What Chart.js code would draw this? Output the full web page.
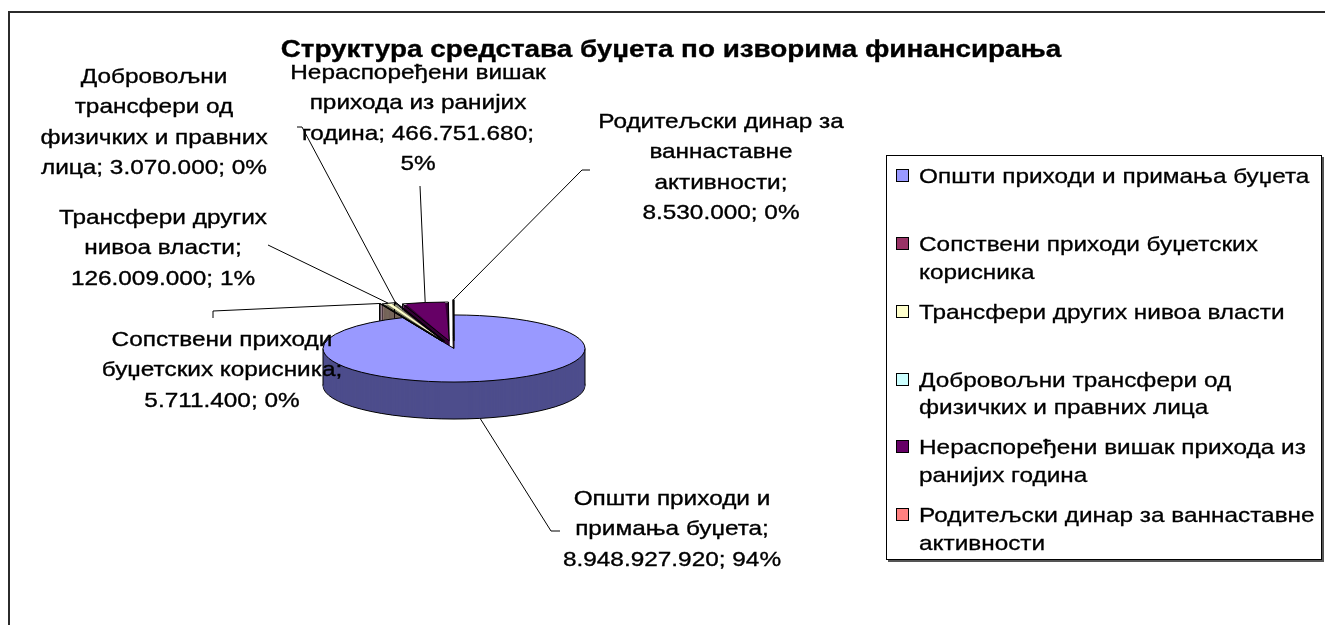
<!DOCTYPE html>
<html lang="sr">
<head>
<meta charset="utf-8">
<title>Структура средстава буџета</title>
<script src="https://cdn.jsdelivr.net/npm/chart.js@4.4.1/dist/chart.umd.min.js"></script>
<style>
    html, body { margin: 0; padding: 0; background: #fff; overflow: hidden; }
    body { width: 1325px; height: 625px; position: relative; font-family: "Liberation Sans", Arial, sans-serif; }
    #frame { position: absolute; left: 8px; top: 11px; width: 1340px; height: 640px; border: 2px solid #2b2b2b; }
    #chart { position: absolute; left: 0; top: 0; }
    #legend { position: absolute; left: 886px; top: 155px; width: 436px; height: 405px; border: 1px solid #000;
              box-shadow: 2px 2px 0 #555; background: #fff; box-sizing: border-box; }
    .item { position: absolute; left: 0; width: 100%; height: 56px; }
    .swatch { position: absolute; left: 9px; top: 7px; width: 11px; height: 11px; border: 1px solid #000; }
    .text { position: absolute; left: 32px; top: 0; width: 362px; font-size: 21px; line-height: 27.5px;
            color: #000; -webkit-text-stroke: 0.3px #000; transform: scaleX(1.16); transform-origin: 0 0; }
</style>
</head>
<body>
<div id="frame"></div>
<canvas id="chart" width="1325" height="625"></canvas>
<div id="legend"></div>
<script>
// Data
const chartTitle = 'Структура средстава буџета по изворима финансирања';
const categories = [
    'Општи приходи и примања буџета',
    'Сопствени приходи буџетских корисника',
    'Трансфери других нивоа власти',
    'Добровољни трансфери од физичких и правних лица',
    'Нераспоређени вишак прихода из ранијих година',
    'Родитељски динар за ваннаставне активности'
];
const amounts = [8948927920, 5711400, 126009000, 3070000, 466751680, 8530000];

// Styles
const topColors = ['#9999FF', '#993366', '#FFFFCC', '#CCFFFF', '#660066', '#FF8080'];
const sideColors = ['#4D4D8C', '#5A1E3C', '#808066', '#668080', '#330033', '#804040'];
const explode = [0, 120, 120, 120, 120, 120];

// Label placement: centre x, first line y, wrap width, leader points on the label side
const labelX = [672, 222, 163, 154, 418, 721];
const labelY = [499, 340, 218, 77, 73, 122];
const labelWrap = [225, 252, 215, 240, 265, 249];
const leaderPts = [
    [[560, 531], [551, 531]],
    [[213, 318], [213, 311]],
    [[268, 245]],
    [[297, 127], [302, 127]],
    [[420, 186]],
    [[590, 170], [582, 170]]
];

const TILT = 0.256;   // vertical squash of the pie
const DEPTH = 37;     // thickness of the pie, px
const SX = 1.16;      // horizontal stretch of the text
const FONT = '"Liberation Sans", Arial, sans-serif';

const fmtNum = n => String(n).replace(/\B(?=(\d{3})+(?!\d))/g, '.');

// Geometry of an arc as it appears after projection
function geom(arc) {
    const p = arc.getProps(['x', 'y', 'startAngle', 'endAngle', 'outerRadius'], true);
    const off = (arc.options.offset || 0) / 4;
    const h = (p.startAngle + p.endAngle) / 2;
    const fix = 1 - Math.sin(Math.min(Math.PI, p.endAngle - p.startAngle));
    return {
        ax: p.x + Math.cos(h) * off,
        ay: p.y + Math.sin(h) * off * TILT,
        r: p.outerRadius + off * fix,
        s: p.startAngle,
        e: p.endAngle,
        h: h
    };
}

function sectorPath(ctx, g, dy) {
    ctx.beginPath();
    ctx.moveTo(g.ax, g.ay + dy);
    ctx.ellipse(g.ax, g.ay + dy, g.r, g.r * TILT, 0, g.s, g.e);
    ctx.closePath();
}

function angleIn(t, s, e) {
    let a = t;
    while (a < s) a += Math.PI * 2;
    return a <= e;
}

function wrapText(ctx, text, maxW) {
    const words = text.split(' ');
    const lines = [];
    let cur = '';
    words.forEach(w => {
        const test = cur ? cur + ' ' + w : w;
        if (cur && ctx.measureText(test).width * SX > maxW) {
            lines.push(cur);
            cur = w;
        } else {
            cur = test;
        }
    });
    if (cur) lines.push(cur);
    return lines;
}

function stretchedText(ctx, str, x, y) {
    ctx.save();
    ctx.translate(x, y);
    ctx.scale(SX, 1);
    ctx.fillText(str, 0, 0);
    ctx.strokeText(str, 0, 0);
    ctx.restore();
}

const pie3d = {
    id: 'pie3d',
    beforeDatasetsDraw(chart) {
        const ctx = chart.ctx;
        const arcs = chart.getDatasetMeta(0).data;
        const gs = arcs.map(geom);
        // back slices first
        const order = gs.map((g, i) => i).sort((a, b) => Math.sin(gs[a].h) - Math.sin(gs[b].h));

        ctx.save();
        ctx.lineWidth = 1;
        ctx.strokeStyle = '#000';
        order.forEach(i => {
            const g = gs[i];
            ctx.fillStyle = sideColors[i];
            sectorPath(ctx, g, DEPTH);
            ctx.fill();
            ctx.stroke();
            for (let d = DEPTH - 1; d >= 1; d--) {
                sectorPath(ctx, g, d);
                ctx.fill();
            }
            // vertical edges of the wall
            const ts = [g.s, g.e];
            [0, Math.PI].forEach(t => { if (angleIn(t, g.s, g.e)) ts.push(t); });
            ctx.beginPath();
            ts.forEach(t => {
                const x = g.ax + Math.cos(t) * g.r;
                const y = g.ay + Math.sin(t) * g.r * TILT;
                ctx.moveTo(x, y);
                ctx.lineTo(x, y + DEPTH);
            });
            ctx.stroke();
        });
        ctx.restore();

        // squash the top faces that Chart.js draws
        const cy = arcs[0].y;
        ctx.save();
        ctx.translate(0, cy);
        ctx.scale(1, TILT);
        ctx.translate(0, -cy);
    },
    afterDatasetsDraw(chart) {
        const ctx = chart.ctx;
        ctx.restore();

        const arcs = chart.getDatasetMeta(0).data;
        const gs = arcs.map(geom);
        const values = chart.data.datasets[0].data;
        const total = values.reduce((a, b) => a + b, 0);

        ctx.save();
        ctx.lineWidth = 1;
        ctx.strokeStyle = '#000';
        gs.forEach(g => { sectorPath(ctx, g, 0); ctx.stroke(); });

        // leader lines
        gs.forEach((g, i) => {
            const rx = g.ax + Math.cos(g.h) * g.r;
            let ry = g.ay + Math.sin(g.h) * g.r * TILT;
            if (Math.sin(g.h) > 0) ry += DEPTH;
            const pts = leaderPts[i];
            ctx.beginPath();
            ctx.moveTo(pts[0][0], pts[0][1]);
            pts.slice(1).forEach(p => ctx.lineTo(p[0], p[1]));
            ctx.lineTo(rx, ry);
            ctx.stroke();
        });

        // data labels
        ctx.fillStyle = '#000';
        ctx.lineWidth = 0.35;
        ctx.textAlign = 'center';
        ctx.textBaseline = 'middle';
        ctx.font = '21px ' + FONT;
        chart.data.labels.forEach((cat, i) => {
            const pct = Math.round(values[i] / total * 100) + '%';
            const text = cat + '; ' + fmtNum(values[i]) + '; ' + pct;
            const lines = wrapText(ctx, text, labelWrap[i]);
            lines.forEach((ln, k) => stretchedText(ctx, ln, labelX[i], labelY[i] + k * 30.5));
        });

        // title
        ctx.font = 'bold 24px ' + FONT;
        stretchedText(ctx, chartTitle, 671, 50);
        ctx.restore();
    }
};

const chart = new Chart(document.getElementById('chart'), {
    type: 'pie',
    data: {
        labels: categories,
        datasets: [{
            data: amounts,
            backgroundColor: topColors,
            borderWidth: 0,
            offset: explode,
            radius: 131
        }]
    },
    options: {
        responsive: false,
        animation: false,
        events: [],
        layout: { padding: { left: 0, right: 417, top: 72, bottom: 0 } },
        plugins: {
            legend: { display: false },
            tooltip: { enabled: false },
            title: { display: false }
        }
    },
    plugins: [pie3d]
});

// HTML legend built from the chart data
const legendEl = document.getElementById('legend');
chart.data.labels.forEach((cat, i) => {
    const item = document.createElement('div');
    item.className = 'item';
    item.style.top = (6.25 + i * 67.8) + 'px';
    const sw = document.createElement('div');
    sw.className = 'swatch';
    sw.style.background = chart.data.datasets[0].backgroundColor[i];
    const tx = document.createElement('div');
    tx.className = 'text';
    tx.textContent = cat;
    item.appendChild(sw);
    item.appendChild(tx);
    legendEl.appendChild(item);
});
</script>
</body>
</html>
